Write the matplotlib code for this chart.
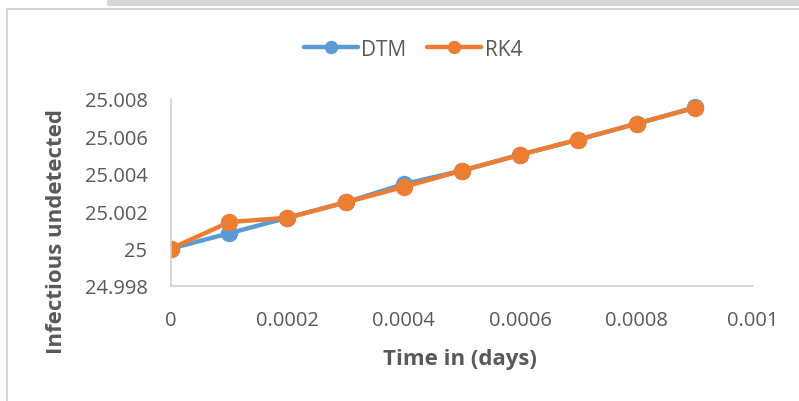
import matplotlib
matplotlib.use("Agg")
import matplotlib.pyplot as plt
from matplotlib.patches import Rectangle
from matplotlib.ticker import FixedLocator, FuncFormatter

# time steps (days) and infectious-undetected values for both solvers
time_days = [0, 0.0001, 0.0002, 0.0003, 0.0004, 0.0005, 0.0006, 0.0007, 0.0008, 0.0009]
dtm = [25.0, 25.00082, 25.00165, 25.00247, 25.00345, 25.00417, 25.00502, 25.00583, 25.00668, 25.00755]
rk4 = [25.0, 25.00142, 25.00165, 25.00247, 25.00330, 25.00417, 25.00502, 25.00583, 25.00668, 25.00752]

x_ticks = [0, 0.0002, 0.0004, 0.0006, 0.0008, 0.001]
y_ticks = [24.998, 25.0, 25.002, 25.004, 25.006, 25.008]

TEXT = "#595959"
W, H = 799, 402
plt.rcParams["font.family"] = ["Open Sans", "DejaVu Sans"]

fig = plt.figure(figsize=(W / 100, H / 100), dpi=100)
fig.patch.set_facecolor("white")

# grey strip along the top edge and the chart-area frame
fig.add_artist(Rectangle((107 / W, 1 - 7 / H), 1, 7 / H, transform=fig.transFigure,
                         facecolor="#d6d6d6", edgecolor="none"))
fig.add_artist(Rectangle((7 / W, -0.1), 1.1, 1 - 10 / H + 0.1, transform=fig.transFigure,
                         facecolor="none", edgecolor="#d6d6d6", linewidth=1.5))

ax = fig.add_axes([171 / W, 1 - 287 / H, (753 - 171) / W, (287 - 100) / H])
ax.plot(time_days, dtm, color="#5B9BD5", lw=3.2, marker="o", ms=11.5, label="DTM",
        solid_capstyle="round")
ax.plot(time_days, rk4, color="#ED7D31", lw=3.2, marker="o", ms=11.5, label="RK4",
        solid_capstyle="round")

ax.set_xlim(0, 0.001)
ax.set_ylim(24.998, 25.008)
ax.xaxis.set_major_locator(FixedLocator(x_ticks))
ax.yaxis.set_major_locator(FixedLocator(y_ticks))
ax.xaxis.set_major_formatter(FuncFormatter(lambda v, p: f"{v:.4f}".rstrip("0").rstrip(".")))
ax.yaxis.set_major_formatter(FuncFormatter(lambda v, p: f"{v:.3f}".rstrip("0").rstrip(".")))
ax.tick_params(length=0, labelsize=14.5, labelcolor=TEXT)
ax.tick_params(axis="y", pad=17)
ax.tick_params(axis="x", pad=17)

for side in ("top", "right"):
    ax.spines[side].set_visible(False)
for side in ("left", "bottom"):
    ax.spines[side].set_color("#d0d0d0")
    ax.spines[side].set_linewidth(1.2)

for lab in ax.get_xticklabels() + ax.get_yticklabels():
    lab.set_clip_on(False)

# axis titles
fig.text(460 / W, 1 - 360 / H, "Time in (days)", fontsize=16, fontweight="bold",
         color=TEXT, ha="center", va="center")
fig.text(57 / W, 1 - 231 / H, "Infectious undetected", fontsize=16, fontweight="bold",
         color=TEXT, ha="center", va="center", rotation=90)

fig.legend(loc="center", bbox_to_anchor=(413 / W, 1 - 50 / H), ncol=2, frameon=False,
           fontsize=15, labelcolor=TEXT, handlelength=2.6, handletextpad=0.15,
           columnspacing=1.0, markerscale=0.75)

fig.savefig("out.png", dpi=100)
